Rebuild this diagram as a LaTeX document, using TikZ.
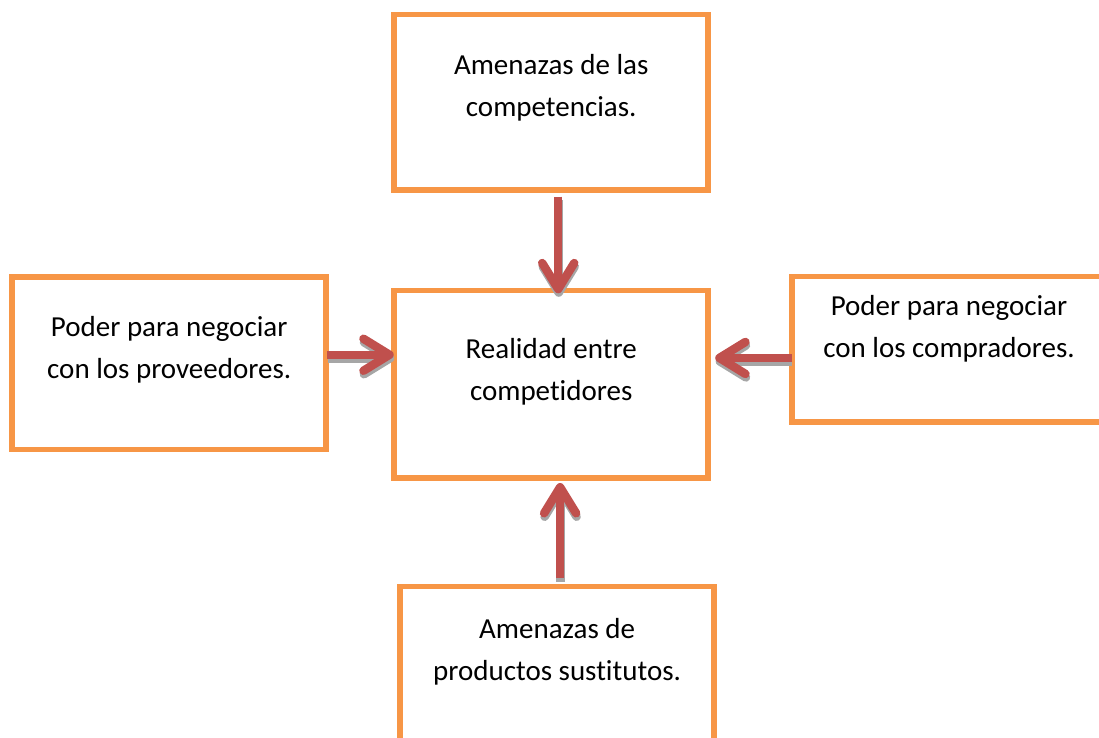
\documentclass[tikz,border=0pt]{standalone}
\usepackage{fontspec}
\setmainfont{Carlito}[Ligatures=NoCommon]
\usetikzlibrary{arrows.meta}
\usetikzlibrary{calc}

\definecolor{boxorange}{HTML}{F79646}
\definecolor{arrowred}{HTML}{C0504D}
\definecolor{shadowgray}{HTML}{A6A6A6}

\begin{document}
\begin{tikzpicture}[x=1pt,y=-1pt]
\tikzstyle{force} = [rectangle, draw=boxorange, line width=5.5pt, inner sep=0pt,
outer sep=0pt, minimum width=314pt, align=center, anchor=north,
font=\fontsize{29}{42}\selectfont]
\tikzstyle{push} = [draw=arrowred, line width=8.5pt,
-{Straight Barb[round, length=26pt, width=32pt]}]
\tikzstyle{pushshadow} = [push, draw=shadowgray, transform canvas={shift={(0.5pt,-3.5pt)}}]
\useasboundingbox (0,0) rectangle (1099,738);
\clip (0,0) rectangle (1099,738);
% row 1
\node [force, text height=102.5pt, text depth=73pt] (competencias) at (551.2,14.5)
{Amenazas de las\\competencias.};
% row 2
\node [force, text height=101.7pt, text depth=70.8pt] (proveedores) at (169.2,277)
{Poder para negociar\\con los proveedores.};
\node [force, text height=110pt, text depth=77.7pt] (realidad) at (551.2,290.3)
{Realidad entre\\competidores};
\node [force, text height=81pt, text depth=64.5pt] (compradores) at (949,276.7)
{Poder para negociar\\con los compradores.};
% row 3
\node [force, text height=93.6pt, text depth=82pt] (sustitutos) at (557.1,586.7)
{Amenazas de\\productos sustitutos.};
% arrow ends
\coordinate (p0) at ($(competencias.south)+(7,6.5)$);
\coordinate (p1) at ($(proveedores.east)+(1,-8.5)$);
\coordinate (p2) at ($(compradores.west)+(-0.5,8.5)$);
\coordinate (p3) at ($(sustitutos.north)+(3,-8.5)$);
% shadows first
\draw [pushshadow] (p0) -- ($(p0 |- realidad.north)+(0,3)$);
\draw [pushshadow] (p1) -- ($(p1 -| realidad.west)+(-0.5,0)$);
\draw [pushshadow] (p2) -- ($(p2 -| realidad.east)+(7,0)$);
\draw [pushshadow] (p3) -- ($(p3 |- realidad.south)+(0,5)$);
% arrows
\draw [push] (p0) -- ($(p0 |- realidad.north)+(0,3)$);
\draw [push] (p1) -- ($(p1 -| realidad.west)+(-0.5,0)$);
\draw [push] (p2) -- ($(p2 -| realidad.east)+(7,0)$);
\draw [push] (p3) -- ($(p3 |- realidad.south)+(0,5)$);
\end{tikzpicture}
\end{document}
